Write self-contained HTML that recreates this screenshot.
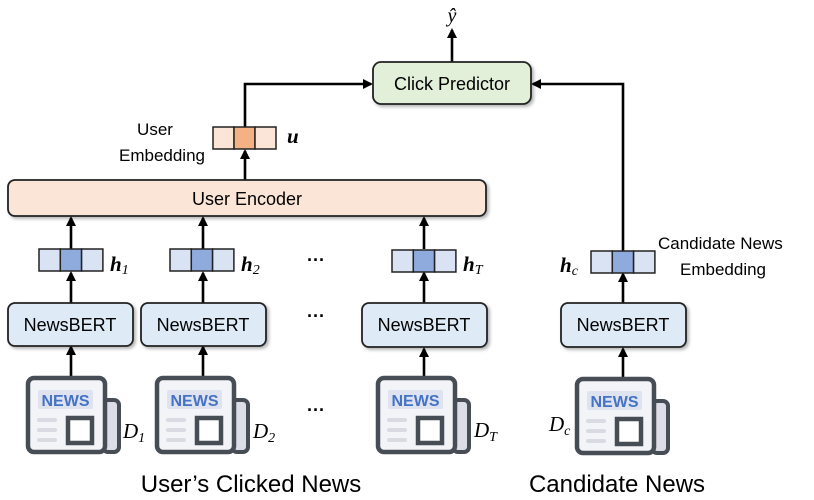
<!DOCTYPE html>
<html><head><meta charset="utf-8"><style>
html,body{margin:0;padding:0;background:#fff;}
svg{display:block;}
text{font-family:"Liberation Sans",sans-serif;}
.m{font-family:"Liberation Serif",serif;font-style:italic;}
</style></head><body>
<svg width="814" height="500" viewBox="0 0 814 500" xmlns="http://www.w3.org/2000/svg">
<defs>
<marker id="a" markerWidth="10" markerHeight="10" refX="8" refY="5" orient="auto" markerUnits="userSpaceOnUse">
<path d="M0,0 L10,5 L0,10 Z" fill="#000"/></marker>
<filter id="sh" x="-5%" y="-10%" width="115%" height="130%"><feDropShadow dx="2" dy="2" stdDeviation="1.5" flood-color="#000" flood-opacity="0.3"/></filter>
<g id="icon">
<rect x="77" y="24" width="16" height="52" rx="5" fill="#dcdde6" stroke="#474d55" stroke-width="4"/>
<rect x="2" y="2" width="77" height="74" rx="6" fill="#f3f4f8" stroke="#474d55" stroke-width="4.5"/>
<rect x="12" y="14" width="55" height="19" rx="2" fill="#dee3ef"/>
<text x="39.5" y="30" font-size="16" font-weight="bold" fill="#4472c4" text-anchor="middle">NEWS</text>
<line x1="13" y1="44" x2="29" y2="44" stroke="#d9dbe3" stroke-width="4" stroke-linecap="round"/>
<line x1="13" y1="54" x2="29" y2="54" stroke="#d9dbe3" stroke-width="4" stroke-linecap="round"/>
<line x1="13" y1="64" x2="29" y2="64" stroke="#d9dbe3" stroke-width="4" stroke-linecap="round"/>
<rect x="42" y="42" width="24" height="25" fill="#fff" stroke="#474d55" stroke-width="4.5"/>
</g>
<g id="vec">
<rect x="0" y="0" width="21.3" height="22" fill="#dae3f3" stroke="#222" stroke-width="1.5"/>
<rect x="21.3" y="0" width="21.3" height="22" fill="#8faadc" stroke="#222" stroke-width="1.5"/>
<rect x="42.6" y="0" width="21.3" height="22" fill="#dae3f3" stroke="#222" stroke-width="1.5"/>
</g>
</defs>

<g stroke="#000" stroke-width="2.6" fill="none">
<line x1="452" y1="62" x2="452" y2="30" marker-end="url(#a)"/>
<polyline points="245,127 245,84 371,84" marker-end="url(#a)"/>
<polyline points="623,251 623,84 533,84" marker-end="url(#a)"/>
<line x1="245" y1="180" x2="245" y2="151" marker-end="url(#a)"/>
<line x1="71" y1="249" x2="71" y2="218" marker-end="url(#a)"/>
<line x1="203" y1="249" x2="203" y2="218" marker-end="url(#a)"/>
<line x1="424" y1="249" x2="424" y2="218" marker-end="url(#a)"/>
<line x1="71" y1="303" x2="71" y2="273" marker-end="url(#a)"/>
<line x1="203" y1="303" x2="203" y2="273" marker-end="url(#a)"/>
<line x1="424" y1="303" x2="424" y2="273" marker-end="url(#a)"/>
<line x1="623" y1="303" x2="623" y2="274" marker-end="url(#a)"/>
<line x1="71" y1="377" x2="71" y2="347" marker-end="url(#a)"/>
<line x1="203" y1="377" x2="203" y2="347" marker-end="url(#a)"/>
<line x1="424" y1="377" x2="424" y2="349" marker-end="url(#a)"/>
<line x1="623" y1="378" x2="623" y2="349" marker-end="url(#a)"/>
</g>

<text x="452" y="22" class="m" font-size="20" text-anchor="middle">ŷ</text>

<rect x="373" y="62" width="158" height="42" rx="8" fill="#e2efd9" stroke="#222" stroke-width="1.8" filter="url(#sh)"/>
<text x="452" y="90" font-size="18" text-anchor="middle">Click Predictor</text>

<rect x="213" y="127" width="21" height="22" fill="#fbe5d6" stroke="#222" stroke-width="1.5"/>
<rect x="234" y="127" width="21" height="22" fill="#f4b183" stroke="#222" stroke-width="1.5"/>
<rect x="255" y="127" width="21" height="22" fill="#fbe5d6" stroke="#222" stroke-width="1.5"/>
<text x="287" y="143" class="m" font-size="21" font-weight="bold">u</text>
<text x="155" y="135" font-size="17" text-anchor="middle">User</text>
<text x="205" y="161" font-size="17" text-anchor="end">Embedding</text>

<rect x="8" y="180" width="478" height="36" rx="7" fill="#fbe5d6" stroke="#222" stroke-width="1.8" filter="url(#sh)"/>
<text x="247" y="205" font-size="18" text-anchor="middle">User Encoder</text>

<use href="#vec" x="39" y="249"/>
<use href="#vec" x="170" y="249"/>
<use href="#vec" x="392" y="250"/>
<use href="#vec" x="591" y="251"/>
<text x="110" y="271" class="m" font-size="21" font-weight="bold">h<tspan font-size="14" font-weight="normal" dy="3">1</tspan></text>
<text x="241" y="271" class="m" font-size="21" font-weight="bold">h<tspan font-size="14" font-weight="normal" dy="3">2</tspan></text>
<text x="463" y="271" class="m" font-size="21" font-weight="bold">h<tspan font-size="14" font-weight="normal" dy="3">T</tspan></text>
<text x="560" y="272" class="m" font-size="21" font-weight="bold">h<tspan font-size="14" font-weight="normal" dy="3">c</tspan></text>
<text x="658" y="249" font-size="17">Candidate News</text>
<text x="680" y="275" font-size="17">Embedding</text>

<text x="316" y="266" font-size="18" font-weight="bold" text-anchor="middle">···</text>
<text x="316" y="322" font-size="18" font-weight="bold" text-anchor="middle">···</text>
<text x="316" y="416" font-size="18" font-weight="bold" text-anchor="middle">···</text>

<g fill="#deebf7" stroke="#222" stroke-width="1.8" filter="url(#sh)">
<rect x="8" y="303" width="125" height="43" rx="7"/>
<rect x="141" y="303" width="125" height="43" rx="7"/>
<rect x="362" y="303" width="125" height="44" rx="7"/>
<rect x="561" y="303" width="125" height="44" rx="7"/>
</g>
<g font-size="18" text-anchor="middle">
<text x="70" y="331">NewsBERT</text>
<text x="203" y="331">NewsBERT</text>
<text x="424" y="331">NewsBERT</text>
<text x="623" y="331">NewsBERT</text>
</g>

<use href="#icon" x="26" y="376"/>
<use href="#icon" x="155" y="376"/>
<use href="#icon" x="376" y="376"/>
<use href="#icon" x="575" y="377"/>
<text x="123" y="438" class="m" font-size="21">D<tspan font-size="14" dy="4">1</tspan></text>
<text x="253" y="438" class="m" font-size="21">D<tspan font-size="14" dy="4">2</tspan></text>
<text x="474" y="437" class="m" font-size="21">D<tspan font-size="14" dy="4">T</tspan></text>
<text x="549" y="431" class="m" font-size="21">D<tspan font-size="14" dy="4">c</tspan></text>

<text x="251" y="492" font-size="24" text-anchor="middle">User’s Clicked News</text>
<text x="617" y="492" font-size="24" text-anchor="middle">Candidate News</text>
</svg>
</body></html>
